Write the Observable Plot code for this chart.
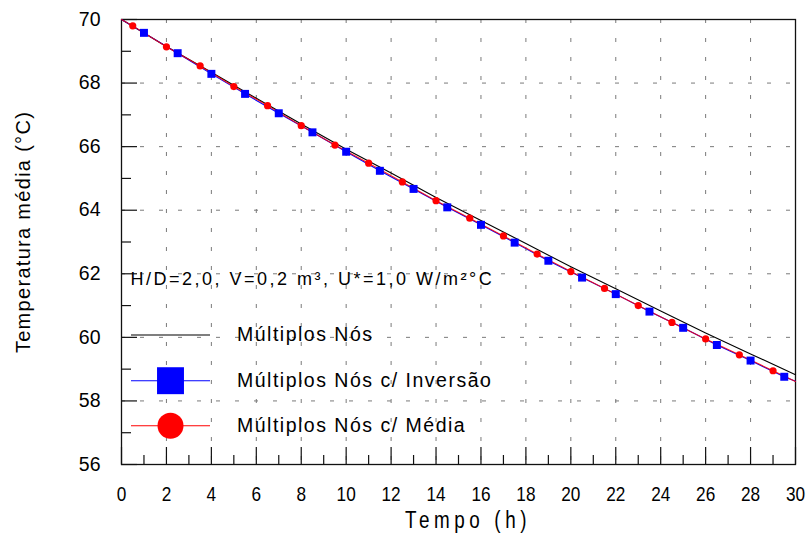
<!DOCTYPE html>
<html><head><meta charset="utf-8">
<script src="https://cdn.jsdelivr.net/npm/d3@7"></script>
<script src="https://cdn.jsdelivr.net/npm/@observablehq/plot@0.6"></script>
<style>
html,body{margin:0;padding:0;background:#fff;}
g[aria-description="titulo-x"] text{letter-spacing:5.6px}
g[aria-description="titulo-y"] text{letter-spacing:1.3px}
g[aria-description="anotacao"] text{letter-spacing:2.5px}
g[aria-description="legenda-texto"] text{letter-spacing:1.5px}
</style></head><body><div id="chart"></div><script>
// ---- data ----
const xTicks = [0,2,4,6,8,10,12,14,16,18,20,22,24,26,28,30];
const xMinor = [1,3,5,7,9,11,13,15,17,19,21,23,25,27,29];
const yTicks = [56,58,60,62,64,66,68,70];
const yMinor = [57,59,61,63,65,67,69];
const xGrid = [2,4,6,8,10,12,14,16,18,20,22,24,26,28];
const yGrid = [58,60,62,64,66,68];

// Múltiplos Nós (black line)
const multiplosT = [0,2,4,6,8,10,12,14,16,18,20,22,24,26,28,30];
const multiplosV = [70,69.15,68.34,67.52,66.71,65.92,65.17,64.40,63.68,62.95,62.22,61.53,60.83,60.14,59.48,58.82];

// Múltiplos Nós c/ Inversão (blue squares)
const inversaoT = [1,2.5,4,5.5,7,8.5,10,11.5,13,14.5,16,17.5,19,20.5,22,23.5,25,26.5,28,29.5];
const inversaoV = [69.58,68.94,68.29,67.66,67.05,66.45,65.84,65.24,64.67,64.09,63.54,62.98,62.41,61.88,61.36,60.81,60.30,59.76,59.27,58.76];
const inversaoLinhaT = [0,1,2.5,4,5.5,7,8.5,10,11.5,13,14.5,16,17.5,19,20.5,22,23.5,25,26.5,28,29.5,30];
const inversaoLinhaV = [70,69.58,68.94,68.29,67.66,67.05,66.45,65.84,65.24,64.67,64.09,63.54,62.98,62.41,61.88,61.36,60.81,60.30,59.76,59.27,58.76,58.62];

// Múltiplos Nós c/ Média (red circles)
const mediaT = [0.5,2,3.5,5,6.5,8,9.5,11,12.5,14,15.5,17,18.5,20,21.5,23,24.5,26,27.5,29];
const mediaV = [69.80,69.14,68.54,67.89,67.29,66.66,66.05,65.48,64.89,64.30,63.75,63.19,62.62,62.07,61.54,61.00,60.47,59.95,59.45,58.95];
const mediaLinhaT = [0,0.5,2,3.5,5,6.5,8,9.5,11,12.5,14,15.5,17,18.5,20,21.5,23,24.5,26,27.5,29,30];
const mediaLinhaV = [70,69.80,69.14,68.54,67.89,67.29,66.66,66.05,65.48,64.89,64.30,63.75,63.19,62.62,62.07,61.54,61.00,60.47,59.95,59.45,58.95,58.61];

const legendLabels = ["Múltiplos Nós","Múltiplos Nós c/ Inversão","Múltiplos Nós c/ Média"];
const annotation = "H/D=2,0, V=0,2 m³, U*=1,0 W/m²°C";
const xTitle = "Tempo (h)";
const yTitle = "Temperatura média (°C)";

// ---- build ----
const zip = (t, v) => t.map((d, i) => ({t: d, v: v[i]}));
const W = 808, H = 536, mL = 121, mR = 13, mT = 19, mB = 72;
const fw = W - mL - mR, fh = H - mT - mB;
const lineSym = {draw(ctx) { ctx.moveTo(-39.5, 0); ctx.lineTo(39.5, 0); }};
const font = "'Liberation Sans', Arial, sans-serif";
const rows = [-129.5, -83.8, -38.8];
const colors = ["#000000", "#0000ff", "#ff0000"];

const chart = Plot.plot({
  width: W, height: H,
  marginLeft: mL, marginRight: mR, marginTop: mT, marginBottom: mB,
  style: {fontFamily: font, background: "#fff", color: "#000"},
  x: {domain: [0, 30], axis: null},
  y: {domain: [56, 70], axis: null},
  marks: [
    Plot.ruleX(xGrid, {x: d => d, stroke: "#7a7a7a", strokeDasharray: "4 15"}),
    Plot.ruleY(yGrid, {y: d => d, stroke: "#7a7a7a", strokeDasharray: "4 15"}),
    Plot.tickY(yTicks, {y: d => d, insetRight: fw - 16, stroke: "#111", strokeWidth: 1.2}),
    Plot.tickY(yMinor, {y: d => d, insetRight: fw - 10, stroke: "#111", strokeWidth: 1.2}),
    Plot.tickX(xTicks, {x: d => d, insetTop: fh - 17, stroke: "#111", strokeWidth: 1.2}),
    Plot.tickX(xMinor, {x: d => d, insetTop: fh - 9, stroke: "#111", strokeWidth: 1.2}),
    Plot.frame({stroke: "#111", strokeWidth: 1.3}),
    Plot.line(zip(multiplosT, multiplosV), {x: "t", y: "v", stroke: "#000", strokeWidth: 1.1}),
    Plot.line(zip(inversaoLinhaT, inversaoLinhaV), {x: "t", y: "v", stroke: "#0000ff", strokeWidth: 1.1}),
    Plot.line(zip(mediaLinhaT, mediaLinhaV), {x: "t", y: "v", stroke: "#ff0000", strokeWidth: 1.1, strokeOpacity: 0.85}),
    Plot.dot(zip(inversaoT, inversaoV), {x: "t", y: "v", symbol: "square", r: 4.5, fill: "#0000ff", stroke: "none"}),
    Plot.dot(zip(mediaT, mediaV), {x: "t", y: "v", symbol: "circle", r: 3.6, fill: "#ff0000", stroke: "none"}),
    // tick labels
    Plot.text(yTicks, {y: d => d, text: d => String(d), frameAnchor: "left", dx: -21, textAnchor: "end", lineAnchor: "middle", fontSize: 19.5, fill: "#000"}),
    Plot.text(xTicks, {x: d => d, text: d => String(d), frameAnchor: "bottom", dy: 30, textAnchor: "middle", lineAnchor: "middle", fontSize: 21, fill: "#000", ariaDescription: "rotulos-x"}),
    // axis titles
    Plot.text([xTitle], {text: d => d, frameAnchor: "bottom", dx: 9.5, dy: 56, textAnchor: "middle", lineAnchor: "middle", fontSize: 23, fill: "#000", ariaDescription: "titulo-x"}),
    Plot.text([yTitle], {text: d => d, frameAnchor: "left", dx: -98, dy: -10, rotate: -90, textAnchor: "middle", lineAnchor: "middle", fontSize: 20, fill: "#000", ariaDescription: "titulo-y"}),
    // annotation
    Plot.text([annotation], {text: d => d, frameAnchor: "bottom-left", dx: 9, dy: -185.5, textAnchor: "start", lineAnchor: "middle", fontSize: 18, fill: "#000", ariaDescription: "anotacao"}),
    // legend
    ...legendLabels.flatMap((lab, i) => [
      Plot.dot([lab], {frameAnchor: "bottom-left", dx: 49, dy: rows[i], symbol: lineSym, r: 1, fill: "none", stroke: colors[i], strokeWidth: 1.1}),
      Plot.text([lab], {text: d => d, frameAnchor: "bottom-left", dx: 115.5, dy: rows[i], textAnchor: "start", lineAnchor: "middle", fontSize: 19.5, fill: "#000", ariaDescription: "legenda-texto"})
    ]),
    Plot.dot([legendLabels[1]], {frameAnchor: "bottom-left", dx: 49, dy: rows[1], symbol: "square", r: 15.2, fill: "#0000ff", stroke: "none"}),
    Plot.dot([legendLabels[2]], {frameAnchor: "bottom-left", dx: 49, dy: rows[2], symbol: "circle", r: 13, fill: "#ff0000", stroke: "none"})
  ]
});
document.getElementById("chart").appendChild(chart);

// condensed look for the x-axis texts (horizontal scale only)
function condense(desc, sx) {
  d3.select(chart).selectAll(`g[aria-description="${desc}"] text`).each(function() {
    const t = d3.select(this);
    const tr = t.attr("transform") || "";
    t.attr("transform", `${tr} scale(${sx},1)`);
  });
}
condense("rotulos-x", 0.82);
condense("titulo-x", 0.82);
</script></body></html>
